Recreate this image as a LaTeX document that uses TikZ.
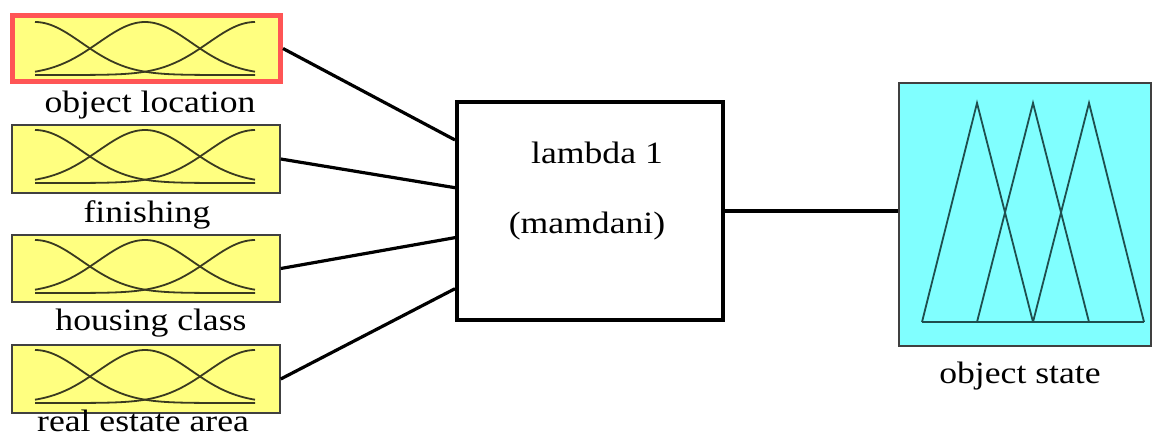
\documentclass[tikz,border=0pt]{standalone}
\usepackage{fontspec}
\setmainfont{Liberation Serif}
\usepackage{graphicx}
\usetikzlibrary{calc}
\definecolor{inyellow}{HTML}{FFFF80}
\definecolor{outcyan}{HTML}{80FFFF}
\definecolor{selred}{HTML}{FF5555}
\definecolor{boxgray}{HTML}{404040}
\definecolor{mfolive}{HTML}{3A3A20}
\definecolor{mfteal}{HTML}{1F4F4F}
\newcommand\wtxt[1]{\scalebox{1.15}[1]{#1}}
\newcommand\gaussicon[2]{%
  \foreach \c in {0,110,220}{
    \draw[mfline] plot[domain=0:220,samples=70,smooth]
      ({#1+\x},{#2+53*(1-exp(-(((\x-\c)/46.7)^2)/2))});
  }}
\tikzset{
  inbox/.style={draw=boxgray,line width=1.5pt,fill=inyellow,inner sep=0pt,minimum width=268pt},
  selbox/.style={draw=selred,line width=5pt,fill=inyellow,inner sep=0pt,minimum width=268pt,minimum height=66pt},
  rulebox/.style={draw=black,line width=4pt,fill=white,inner sep=0pt,minimum width=266pt,minimum height=218pt},
  outbox/.style={draw=boxgray,line width=1.5pt,fill=outcyan,inner sep=0pt,minimum width=252pt,minimum height=263pt},
  mfline/.style={draw=mfolive,line width=1.8pt},
  triline/.style={draw=mfteal,line width=1.8pt,line join=miter},
  lbl/.style={font=\fontsize{31}{36}\selectfont,anchor=base,inner sep=0pt},
  conn/.style={draw=black,line width=3.2pt}
}
\begin{document}
\begin{tikzpicture}[x=1pt,y=-1pt]
\useasboundingbox (0,0) rectangle (1153,437);
% input boxes
\node[selbox] (b1) at (146.5,48.5) {};
\node[inbox,minimum height=68pt] (b2) at (146,159) {};
\node[inbox,minimum height=67pt] (b3) at (146,268.5) {};
\node[inbox,minimum height=68pt] (b4) at (146,379) {};
\gaussicon{35}{22}
\gaussicon{35}{130}
\gaussicon{35}{240}
\gaussicon{35}{350}
\node[lbl] (l1) at (150,112) {\wtxt{object location}};
\node[lbl] (l2) at (147,222) {\wtxt{finishing}};
\node[lbl] (l3) at (151,330) {\wtxt{housing class}};
\node[lbl] (l4) at (143,431) {\wtxt{real estate area}};
% rule block
\node[rulebox] (lam) at (590,211) {};
\node[lbl] (t1) at (597,163) {\wtxt{lambda 1}};
\node[lbl] (t2) at (587,233) {\wtxt{(mamdani)}};
% output box
\node[outbox] (out) at (1025,214.5) {};
\draw[triline] (922,322) -- (977,103) -- (1033,322);
\draw[triline] (977,322) -- (1033,103) -- (1089,322);
\draw[triline] (1033,322) -- (1089,103) -- (1144,322);
\draw[triline] (922,322) -- (1144,322);
\node[lbl] (l5) at (1020,383) {\wtxt{object state}};
% connectors
\coordinate (i1) at ($(lam.north west)!0.18!(lam.south west)$);
\coordinate (i2) at ($(lam.north west)!0.395!(lam.south west)$);
\coordinate (i3) at ($(lam.north west)!0.62!(lam.south west)$);
\coordinate (i4) at ($(lam.north west)!0.85!(lam.south west)$);
\draw[conn] (b1.east) -- (i1);
\draw[conn] (b2.east) -- (i2);
\draw[conn] (b3.east) -- (i3);
\draw[conn] (b4.east) -- (i4);
\draw[conn] (lam.east) -- (lam.east -| out.west);
\end{tikzpicture}
\end{document}
